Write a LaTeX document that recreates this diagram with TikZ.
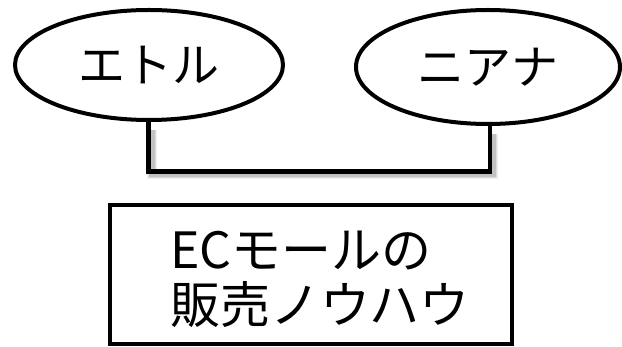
\documentclass[tikz,border=0pt]{standalone}
\usepackage{fontspec}
\setmainfont{Noto Sans CJK JP}
\usetikzlibrary{shapes.geometric}
\tikzset{
  ov/.style={draw=black, line width=4pt, ellipse, inner sep=0pt,
    font=\fontsize{47}{52}\selectfont},
  boxnode/.style={draw=black, line width=4pt, rectangle, inner sep=0pt},
  lbl/.style={align=left, inner sep=0pt, font=\fontsize{50}{55}\selectfont},
  conn/.style={draw=black, line width=4.5pt, line join=miter},
  shad/.style={draw=black, line join=miter}
}
\begin{document}
\begin{tikzpicture}[x=1pt, y=-1pt]
\useasboundingbox (0,0) rectangle (622,347);
\node[ov, minimum width=268pt, minimum height=110pt] (L) at (149,65) {エトル};
\node[ov, minimum width=264pt, minimum height=114pt] (R) at (488,67) {ニアナ};
\coordinate (m) at (0,171.5);
% shadow
\foreach \w/\o in {10/0.06, 8/0.08, 6/0.12} {
  \begin{scope}[shift={(3,3)}]
    \draw[shad, line width=\w pt, opacity=\o] ([yshift=-8pt]L.south -| 148.5,0) -- (148.5,171.5) -- (490,171.5) -- ([yshift=-8pt]R.south -| 490,0);
  \end{scope}
}
\draw[conn] (L.south -| 148.5,0) -- (148.5,171.5 |- m) -- (490,171.5) -- (R.south -| 490,0);
\node[boxnode, minimum width=402pt, minimum height=139pt] (B) at (311,274.5) {};
\node[lbl] (T) at (320,279) {ECモールの\\販売ノウハウ};
\end{tikzpicture}
\end{document}
